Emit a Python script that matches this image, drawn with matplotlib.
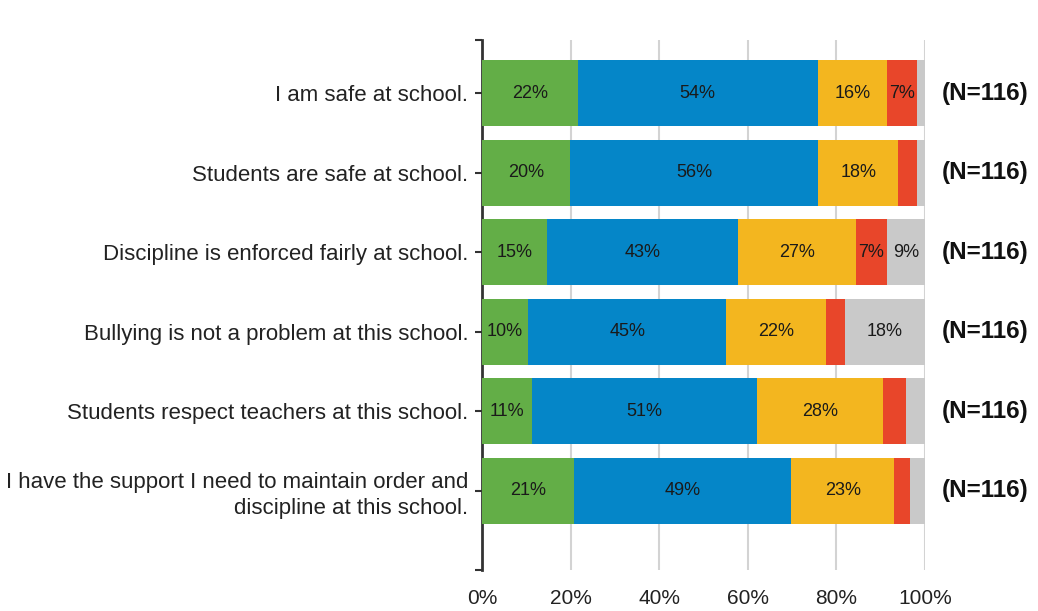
import matplotlib
matplotlib.use("Agg")
import matplotlib.pyplot as plt
import numpy as np

plt.rcParams['font.family'] = ['Liberation Sans', 'DejaVu Sans']

# survey items (top to bottom) and response counts out of N=116
statements = [
    "I am safe at school.",
    "Students are safe at school.",
    "Discipline is enforced fairly at school.",
    "Bullying is not a problem at this school.",
    "Students respect teachers at this school.",
    "I have the support I need to maintain order and\ndiscipline at this school.",
]
strongly_agree = [25, 23, 17, 12, 13, 24]
agree = [63, 65, 50, 52, 59, 57]
disagree = [18, 21, 31, 26, 33, 27]
strongly_disagree = [8, 5, 8, 5, 6, 4]
dont_know = [2, 2, 10, 21, 5, 4]
n_resp = [116, 116, 116, 116, 116, 116]

series = [strongly_agree, agree, disagree, strongly_disagree, dont_know]
farger = ["#63AE47", "#0586C8", "#F3B61F", "#E8462A", "#C9C9C9"]

fig = plt.figure(figsize=(10.38, 6.11), dpi=100)
ax = fig.add_axes([0.4644, 0.0671, 0.8911 - 0.4644, 0.9345 - 0.0671])

y = np.arange(len(statements))
venstre = np.zeros(len(statements))
for verdier, farge in zip(series, farger):
    pst = np.array(verdier) / np.array(n_resp) * 100
    ax.barh(y, pst, left=venstre, height=0.83, color=farge, zorder=3)
    for i in range(len(y)):
        # small segments get no label
        if pst[i] >= 6:
            ax.text(venstre[i] + pst[i] / 2, y[i], f"{pst[i]:.0f}%",
                    ha="center", va="center", fontsize=13, color="#1a1a1a", zorder=4)
    venstre += pst

for i in range(len(y)):
    ax.text(103.8, y[i], f"(N={n_resp[i]})", ha="left", va="center",
            fontsize=17.5, fontweight="bold", color="#111111")

ax.set_xlim(0, 100)
ax.set_ylim(len(statements), -0.67)
ax.set_xticks([0, 20, 40, 60, 80, 100])
ax.set_xticklabels(["0%", "20%", "40%", "60%", "80%", "100%"], fontsize=15, color="#222222")
ax.set_yticks(y)
ax.set_yticklabels(statements, fontsize=16, color="#222222", linespacing=1.3)
ax.set_yticks([-0.67, len(statements)], minor=True)
ax.tick_params(axis="y", which="both", direction="out", length=5, width=1.5, color="#333333", pad=5)
ax.tick_params(axis="x", length=0, pad=14)

ax.grid(axis="x", color="#D3D3D3", linewidth=1.5, zorder=0)
for s in ["top", "right", "bottom"]:
    ax.spines[s].set_visible(False)
ax.spines["left"].set_linewidth(2)
ax.spines["left"].set_color("#333333")

fig.savefig("out.png", dpi=100)
